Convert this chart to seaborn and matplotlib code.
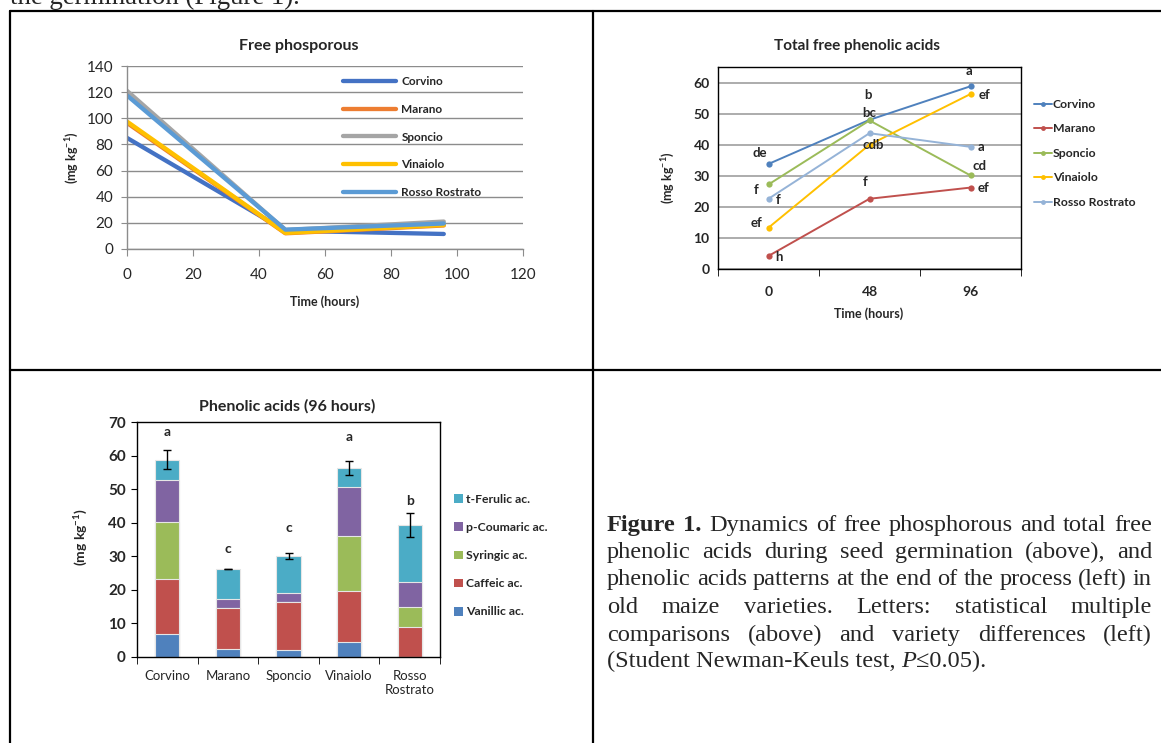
import numpy as np
import pandas as pd
import matplotlib
matplotlib.use("Agg")
import matplotlib.pyplot as plt
import seaborn as sns
from matplotlib.lines import Line2D
from matplotlib.patches import Patch

# ---------------- data ----------------
varieties = ["Corvino", "Marano", "Sponcio", "Vinaiolo", "Rosso Rostrato"]
hours = [0, 48, 96]

# Free phosphorous (mg kg-1)
phos_corvino = [85.0, 14.0, 11.5]
phos_marano = [96.5, 12.0, 18.0]
phos_sponcio = [121.0, 14.5, 21.0]
phos_vinaiolo = [97.5, 12.3, 18.4]
phos_rosso = [117.5, 14.8, 19.5]

# Total free phenolic acids (mg kg-1)
phen_corvino = [33.8, 48.0, 58.8]
phen_marano = [4.2, 22.6, 26.2]
phen_sponcio = [27.2, 47.8, 30.1]
phen_vinaiolo = [13.3, 40.0, 56.3]
phen_rosso = [22.6, 43.7, 39.3]

letters_corvino = ["de", "b", "a"]
letters_marano = ["h", "f", "ef"]
letters_sponcio = ["f", "bc", "cd"]
letters_vinaiolo = ["ef", "cdb", "ef"]
letters_rosso = ["f", "", "a"]

# Phenolic acids at 96 hours (mg kg-1)
bar_labels = ["Corvino", "Marano", "Sponcio", "Vinaiolo", "Rosso\nRostrato"]
acid_names = ["Vanillic ac.", "Caffeic ac.", "Syringic ac.", "p-Coumaric ac.", "t-Ferulic ac."]
vanillic = [6.9, 2.5, 2.2, 4.4, 0.0]
caffeic = [16.4, 12.2, 14.2, 15.2, 8.9]
syringic = [17.0, 0.0, 0.0, 16.3, 6.1]
coumaric = [12.3, 2.6, 2.7, 14.6, 7.3]
ferulic = [6.2, 8.9, 11.0, 5.8, 16.9]
bar_err = [2.8, 0.1, 0.85, 2.0, 3.6]
bar_letters = ["a", "c", "c", "a", "b"]

caption_lines = [
    "Figure 1. Dynamics of free phosphorous and total free",
    "phenolic acids during seed germination (above), and",
    "phenolic acids patterns at the end of the process (left) in",
    "old maize varieties. Letters: statistical multiple",
    "comparisons (above) and variety differences (left)",
]
caption_last = ["(Student Newman-Keuls test, ", "P", "\u22640.05)."]
top_text = "the germination (Figure 1)."

# ---------------- style ----------------
sns.set_style("white")
plt.rcParams["font.family"] = ["Lato", "DejaVu Sans"]
plt.rcParams["mathtext.fontset"] = "custom"
plt.rcParams["mathtext.rm"] = "Lato"
plt.rcParams["mathtext.bf"] = "Lato:bold"
plt.rcParams["mathtext.it"] = "Lato:italic"

phos_colors = ["#4472C4", "#ED7D31", "#A5A5A5", "#FFC000", "#5B9BD5"]
phen_colors = ["#4F81BD", "#C0504D", "#9BBB59", "#FFC000", "#95B3D7"]
acid_colors = ["#4F81BD", "#C0504D", "#9BBB59", "#8064A2", "#4BACC6"]

W, H = 1161, 743
fig = plt.figure(figsize=(W / 100, H / 100), dpi=100)


def fx(x):
    return x / W


def fy(y):
    return 1 - y / H


def box(l, t, r, b):
    return [fx(l), fy(b), (r - l) / W, (b - t) / H]


ylab = r"(mg kg$^{\mathbf{-1}}$)"

# ---------------- panel 1: free phosphorous ----------------
phos_df = pd.DataFrame({
    "hours": hours * 5,
    "value": phos_corvino + phos_marano + phos_sponcio + phos_vinaiolo + phos_rosso,
    "variety": np.repeat(varieties, 3),
})
ax1 = fig.add_axes(box(127, 66, 523, 249))
sns.lineplot(data=phos_df, x="hours", y="value", hue="variety", hue_order=varieties,
             palette=phos_colors, linewidth=3.1, errorbar=None, legend=False, ax=ax1)
ax1.set_xlim(0, 120)
ax1.set_ylim(0, 140)
ax1.set_xticks(range(0, 121, 20))
ax1.set_yticks(range(0, 141, 20))
ax1.yaxis.grid(True, color="#8c8c8c", linewidth=1)
ax1.set_axisbelow(True)
for s in ["top", "right"]:
    ax1.spines[s].set_visible(False)
for s in ["left", "bottom"]:
    ax1.spines[s].set_color("#8c8c8c")
    ax1.spines[s].set_linewidth(1)
ax1.tick_params(axis="x", direction="out", length=5, color="#8c8c8c", labelsize=11, pad=9, bottom=True)
ax1.tick_params(axis="y", direction="out", length=4, color="#8c8c8c", labelsize=11, pad=6, left=True)
ax1.set_xlabel("")
ax1.set_ylabel("")
fig.text(fx(299), fy(46), "Free phosporous", fontsize=11.5, fontweight="bold", ha="center", va="center")
fig.text(fx(325), fy(302), "Time (hours)", fontsize=9, fontweight="bold", ha="center", va="center")
fig.text(fx(72), fy(158), ylab, fontsize=9, fontweight="bold", ha="center", va="center", rotation=90)
h1 = [Line2D([], [], color=c, linewidth=3.1) for c in phos_colors]
fig.legend(h1, varieties, loc="upper left", bbox_to_anchor=(fx(343), fy(76)), frameon=False,
           prop={"size": 8.5, "weight": "bold"}, handlelength=4.5, handletextpad=0.45,
           labelspacing=1.42, borderpad=0, borderaxespad=0)

# ---------------- panel 2: total free phenolic acids ----------------
phen_series = [phen_corvino, phen_marano, phen_sponcio, phen_vinaiolo, phen_rosso]
phen_letters = [letters_corvino, letters_marano, letters_sponcio, letters_vinaiolo, letters_rosso]
phen_df = pd.DataFrame({
    "pos": list(range(3)) * 5,
    "value": sum(phen_series, []),
    "variety": np.repeat(varieties, 3),
})
ax2 = fig.add_axes(box(718, 67, 1021, 269))
sns.lineplot(data=phen_df, x="pos", y="value", hue="variety", hue_order=varieties,
             palette=phen_colors, linewidth=1.4, marker="o", markersize=4.5,
             markeredgewidth=0, errorbar=None, legend=False, ax=ax2)
ax2.set_xlim(-0.5, 2.5)
ax2.set_ylim(0, 65)
ax2.set_xticks(range(3))
ax2.set_xticklabels([str(h) for h in hours])
ax2.set_xticks([-0.5, 0.5, 1.5, 2.5], minor=True)
ax2.set_yticks(range(0, 61, 10))
ax2.yaxis.grid(True, color="#a6a6a6", linewidth=1.3)
ax2.set_axisbelow(True)
for s in ax2.spines.values():
    s.set_color("black")
    s.set_linewidth(1)
ax2.tick_params(axis="x", which="major", length=0, labelsize=10, pad=12)
ax2.tick_params(axis="x", which="minor", direction="out", length=5, color="black", bottom=True)
ax2.tick_params(axis="y", length=0, labelsize=10, pad=6)
for lab in ax2.get_xticklabels() + ax2.get_yticklabels():
    lab.set_fontweight("bold")
ax2.set_xlabel("")
ax2.set_ylabel("")
# offsets of the significance letters from their points (category units, value units)
letter_offsets = [
    [(-0.085, 3.4), (-0.013, 8.0), (-0.01, 5.0)],
    [(0.105, -0.4), (-0.04, 5.5), (0.13, -0.2)],
    [(-0.12, -1.8), (0.0, 2.5), (0.087, 2.9)],
    [(-0.12, 1.4), (0.04, -0.1), (0.137, -0.3)],
    [(0.098, -0.4), (0.0, 0.0), (0.105, -0.2)],
]
for vals, labs, offs in zip(phen_series, phen_letters, letter_offsets):
    for i, (v, lab, (dx, dy)) in enumerate(zip(vals, labs, offs)):
        if lab:
            ax2.text(i + dx, v + dy, lab, fontsize=9.5, fontweight="bold", ha="center", va="center")
fig.text(fx(857), fy(46), "Total free phenolic acids", fontsize=11, fontweight="bold", ha="center", va="center")
fig.text(fx(869), fy(314), "Time (hours)", fontsize=9, fontweight="bold", ha="center", va="center")
fig.text(fx(668), fy(178), ylab, fontsize=9, fontweight="bold", ha="center", va="center", rotation=90)
h2 = [Line2D([], [], color=c, linewidth=1.4, marker="o", markersize=3.5, markeredgewidth=0) for c in phen_colors]
fig.legend(h2, varieties, loc="upper left", bbox_to_anchor=(fx(1034), fy(99)), frameon=False,
           prop={"size": 8.8, "weight": "bold"}, handlelength=1.45, handletextpad=0.1,
           labelspacing=1.1, borderpad=0, borderaxespad=0)

# ---------------- panel 3: stacked bars ----------------
layers = np.array([vanillic, caffeic, syringic, coumaric, ferulic])
cum = np.cumsum(layers, axis=0)
ax3 = fig.add_axes(box(137, 422, 440, 657))
for i in reversed(range(len(acid_names))):
    sns.barplot(x=bar_labels, y=cum[i], color=acid_colors[i], saturation=1, width=0.4,
                edgecolor="#e6e6e6", linewidth=0.8, ax=ax3)
totals = cum[-1]
xpos = np.arange(len(bar_labels))
ax3.errorbar(xpos, totals, yerr=bar_err, fmt="none", ecolor="black", elinewidth=1, capsize=3, capthick=1)
letter_dy = [5.3, 5.8, 7.5, 7.3, 3.6]
for x, t, e, lab, dy in zip(xpos, totals, bar_err, bar_letters, letter_dy):
    ax3.text(x, t + e + dy, lab, fontsize=10, fontweight="bold", ha="center", va="center")
ax3.set_xlim(-0.5, 4.5)
ax3.set_ylim(0, 70)
ax3.set_yticks(range(0, 71, 10))
ax3.set_xticks(np.arange(-0.5, 5, 1), minor=True)
for s in ax3.spines.values():
    s.set_color("black")
    s.set_linewidth(1)
ax3.tick_params(axis="x", which="major", length=0, labelsize=9.5, pad=9)
ax3.tick_params(axis="x", which="minor", direction="out", length=5, color="black", bottom=True)
ax3.tick_params(axis="y", direction="out", length=4, color="black", labelsize=11, pad=4, left=True)
for lab in ax3.get_yticklabels():
    lab.set_fontweight("bold")
ax3.set_xlabel("")
ax3.set_ylabel("")
fig.text(fx(287), fy(406), "Phenolic acids (96 hours)", fontsize=11.5, fontweight="bold", ha="center", va="center")
fig.text(fx(81), fy(537), ylab, fontsize=10, fontweight="bold", ha="center", va="center", rotation=90)
h3 = [Patch(facecolor=c, edgecolor="none") for c in acid_colors[::-1]]
fig.legend(h3, acid_names[::-1], loc="upper left", bbox_to_anchor=(fx(454), fy(494)), frameon=False,
           prop={"size": 8.8, "weight": "bold"}, handlelength=0.72, handleheight=0.72,
           handletextpad=0.28, labelspacing=1.4, borderpad=0, borderaxespad=0)

# ---------------- table borders ----------------
lw = 1.6
fig.add_artist(Line2D([fx(10), fx(10)], [fy(11), fy(743)], color="black", linewidth=lw))
fig.add_artist(Line2D([fx(593), fx(593)], [fy(11), fy(743)], color="black", linewidth=lw))
fig.add_artist(Line2D([fx(10), 1], [fy(11), fy(11)], color="black", linewidth=lw))
fig.add_artist(Line2D([fx(10), 1], [fy(370), fy(370)], color="black", linewidth=lw))

# ---------------- caption text (justified) ----------------
serif = "Liberation Serif"
renderer = fig.canvas.get_renderer()


def measure(txt, size, **kw):
    t = fig.text(0, 0, txt, fontsize=size, family=serif, **kw)
    w = t.get_window_extent(renderer).width
    t.remove()
    return w


x0, x1 = 607, 1152
ref_words = caption_lines[2].split()
base = 12
nat = sum(measure(w, base) for w in ref_words) + (len(ref_words) - 1) * 0.25 * base * 100 / 72
csize = base * (x1 - x0) / nat
space = 0.25 * csize * 100 / 72

baselines = [531, 558, 585, 613, 641]
for li, (line, yb) in enumerate(zip(caption_lines, baselines)):
    words = line.split()
    props = []
    for wi, w in enumerate(words):
        props.append({"fontweight": "bold"} if (li == 0 and wi < 2) else {})
    widths = [measure(w, csize, **p) for w, p in zip(words, props)]
    gap = (x1 - x0 - sum(widths)) / (len(words) - 1)
    x = x0
    for w, p, wd in zip(words, props, widths):
        fig.text(fx(x), fy(yb), w, fontsize=csize, family=serif, va="baseline", ha="left", **p)
        x += wd + gap
x = x0
for part, p in zip(caption_last, [{}, {"style": "italic"}, {}]):
    wd = measure(part.rstrip(), csize, **p)
    fig.text(fx(x), fy(667), part, fontsize=csize, family=serif, va="baseline", ha="left", **p)
    x += wd + (space if part.endswith(" ") else 0)

fig.text(fx(10), fy(4), top_text, fontsize=csize * 1.1, family=serif, va="baseline", ha="left")

fig.savefig("out.png", dpi=100)
